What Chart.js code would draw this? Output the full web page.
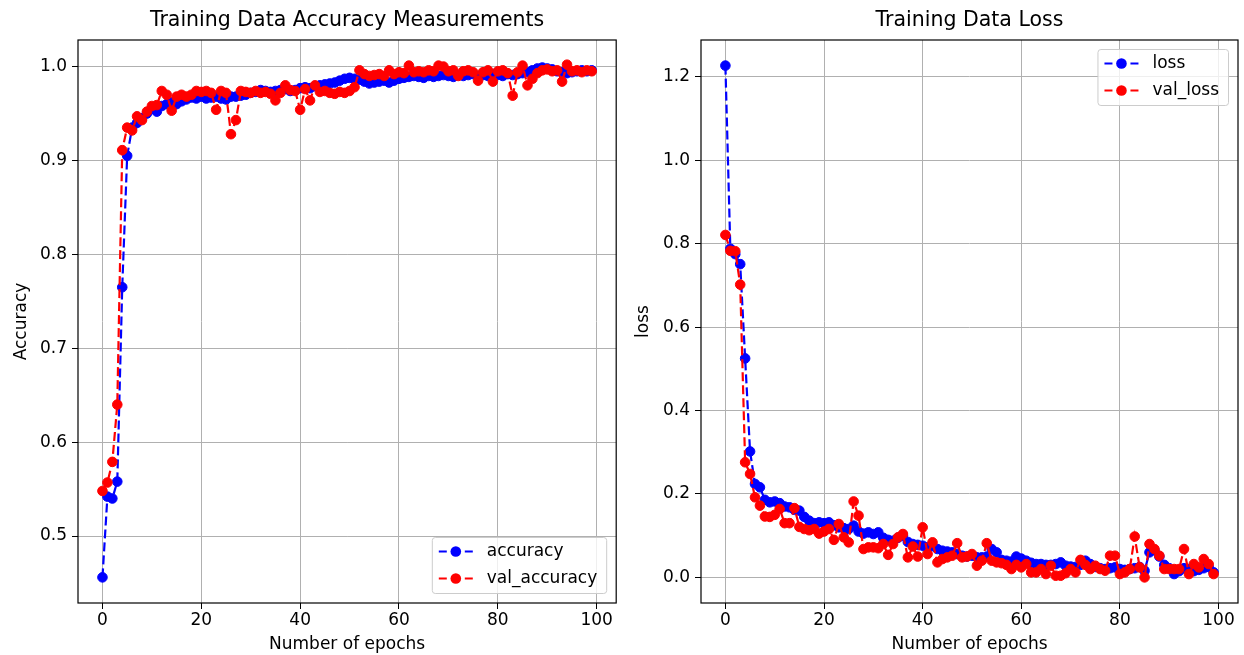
<!DOCTYPE html>
<html>
<head>
<meta charset="utf-8">
<title>Training curves</title>
<script src="https://cdn.jsdelivr.net/npm/chart.js@4.4.1/dist/chart.umd.min.js"></script>
<style>
  html, body { margin: 0; padding: 0; background: #fff; }
  #wrap { position: relative; width: 1244px; height: 655px; }
  canvas { position: absolute; top: 0; }
</style>
</head>
<body>
<div id="wrap">
  <canvas id="accChart" width="622" height="655" style="left:0"></canvas>
  <canvas id="lossChart" width="622" height="655" style="left:622px"></canvas>
</div>
<script>
// epochs 0..99
const epochs = Array.from({ length: 100 }, (_, i) => i);

const accuracy = [
  0.456, 0.542, 0.540, 0.558, 0.765, 0.905, 0.935, 0.940, 0.945, 0.950,
  0.955, 0.952, 0.958, 0.960, 0.962, 0.960, 0.963, 0.965, 0.967, 0.966,
  0.968, 0.966, 0.967, 0.968, 0.966, 0.965, 0.968, 0.968, 0.969, 0.970,
  0.972, 0.973, 0.975, 0.974, 0.973, 0.974, 0.975, 0.976, 0.974, 0.975,
  0.977, 0.978, 0.977, 0.979, 0.980, 0.981, 0.982, 0.983, 0.985, 0.987,
  0.988, 0.987, 0.986, 0.984, 0.982, 0.983, 0.984, 0.985, 0.983, 0.985,
  0.987, 0.988, 0.989, 0.990, 0.989, 0.988, 0.990, 0.989, 0.990, 0.991,
  0.990, 0.989, 0.991, 0.990, 0.991, 0.992, 0.990, 0.991, 0.990, 0.992,
  0.991, 0.990, 0.992, 0.991, 0.992, 0.993, 0.994, 0.996, 0.998, 0.999,
  0.998, 0.997, 0.995, 0.994, 0.993, 0.994, 0.995, 0.996, 0.995, 0.996
];

const valAccuracy = [
  0.548, 0.557, 0.579, 0.640, 0.911, 0.935, 0.932, 0.947, 0.943, 0.952,
  0.958, 0.959, 0.974, 0.970, 0.953, 0.968, 0.970, 0.968, 0.970, 0.974,
  0.973, 0.974, 0.972, 0.954, 0.974, 0.972, 0.928, 0.943, 0.974, 0.973,
  0.972, 0.974, 0.972, 0.973, 0.971, 0.964, 0.972, 0.980, 0.975, 0.974,
  0.954, 0.976, 0.964, 0.980, 0.973, 0.974, 0.972, 0.971, 0.973, 0.972,
  0.974, 0.978, 0.996, 0.992, 0.990, 0.991, 0.992, 0.990, 0.996, 0.992,
  0.994, 0.993, 1.001, 0.994, 0.995, 0.994, 0.996, 0.995, 1.001, 1.000,
  0.995, 0.996, 0.990, 0.995, 0.996, 0.994, 0.985, 0.994, 0.996, 0.984,
  0.995, 0.996, 0.993, 0.969, 0.994, 1.001, 0.980, 0.987, 0.993, 0.996,
  0.997, 0.995, 0.996, 0.984, 1.002, 0.995, 0.996, 0.994, 0.996, 0.995
];

const loss = [
  1.227, 0.788, 0.775, 0.751, 0.525, 0.302, 0.224, 0.216, 0.186, 0.180,
  0.182, 0.178, 0.170, 0.168, 0.162, 0.160, 0.145, 0.136, 0.130, 0.132,
  0.130, 0.132, 0.125, 0.120, 0.118, 0.116, 0.124, 0.110, 0.105, 0.108,
  0.104, 0.108, 0.095, 0.090, 0.088, 0.095, 0.100, 0.085, 0.080, 0.078,
  0.076, 0.072, 0.075, 0.068, 0.064, 0.062, 0.060, 0.056, 0.052, 0.050,
  0.052, 0.048, 0.048, 0.050, 0.068, 0.060, 0.042, 0.040, 0.038, 0.050,
  0.045, 0.040, 0.035, 0.032, 0.032, 0.030, 0.030, 0.032, 0.036, 0.028,
  0.026, 0.025, 0.030, 0.040, 0.032, 0.025, 0.022, 0.020, 0.022, 0.024,
  0.020, 0.018, 0.020, 0.022, 0.025, 0.016, 0.060, 0.065, 0.050, 0.030,
  0.022, 0.008, 0.015, 0.022, 0.020, 0.015, 0.018, 0.022, 0.025, 0.012
];

const valLoss = [
  0.821, 0.783, 0.782, 0.702, 0.276, 0.248, 0.192, 0.172, 0.146, 0.145,
  0.150, 0.164, 0.130, 0.130, 0.166, 0.121, 0.116, 0.113, 0.116, 0.105,
  0.110, 0.116, 0.090, 0.128, 0.096, 0.084, 0.182, 0.148, 0.068, 0.072,
  0.072, 0.070, 0.080, 0.054, 0.080, 0.096, 0.104, 0.048, 0.074, 0.050,
  0.120, 0.056, 0.084, 0.036, 0.044, 0.048, 0.052, 0.082, 0.048, 0.050,
  0.056, 0.028, 0.040, 0.082, 0.040, 0.036, 0.034, 0.030, 0.020, 0.030,
  0.024, 0.032, 0.012, 0.012, 0.020, 0.008, 0.028, 0.004, 0.004, 0.010,
  0.020, 0.012, 0.042, 0.030, 0.020, 0.028, 0.020, 0.016, 0.052, 0.052,
  0.008, 0.012, 0.020, 0.098, 0.024, 0.000, 0.080, 0.068, 0.052, 0.020,
  0.020, 0.020, 0.020, 0.068, 0.008, 0.032, 0.024, 0.044, 0.032, 0.008
];

const xTicks = [0, 20, 40, 60, 80, 100];
const accTicks = [0.5, 0.6, 0.7, 0.8, 0.9, 1.0];
const lossTicks = [0.0, 0.2, 0.4, 0.6, 0.8, 1.0, 1.2];

const FONT = "'DejaVu Sans', sans-serif";
Chart.defaults.font.family = FONT;
Chart.defaults.color = '#000';

const toPoints = vals => vals.map((v, i) => ({ x: epochs[i], y: v }));

function series(label, vals, color, order) {
  return {
    label: label,
    data: toPoints(vals),
    borderColor: color,
    backgroundColor: color,
    borderWidth: 2.2,
    borderDash: [9, 4],
    tension: 0,
    pointRadius: 4.8,
    pointBorderWidth: 1,
    pointBorderColor: color,
    pointBackgroundColor: color,
    order: order
  };
}

// title, frame and matplotlib-like legend
const decor = {
  id: 'decor',
  afterDatasetsDraw(chart, args, opts) {
    const { ctx, chartArea: a } = chart;
    ctx.save();

    ctx.strokeStyle = '#000';
    ctx.lineWidth = 1.2;
    ctx.strokeRect(a.left, a.top, a.right - a.left, a.bottom - a.top);

    ctx.fillStyle = '#000';
    ctx.font = '20.5px ' + FONT;
    ctx.textAlign = 'center';
    ctx.textBaseline = 'middle';
    ctx.fillText(opts.title, (a.left + a.right) / 2, 21);

    // legend
    const items = chart.data.datasets.map(d => ({ label: d.label, color: d.borderColor }));
    ctx.font = '17px ' + FONT;
    const textW = Math.max(...items.map(it => ctx.measureText(it.label).width));
    const w = 55 + textW + 9;
    const h = 29 + 27 * (items.length - 1);
    const x = a.right - 10 - w;
    const y = opts.legendAt === 'upper right' ? a.top + 9 : a.bottom - 10 - h;

    ctx.fillStyle = 'rgba(255,255,255,0.8)';
    ctx.strokeStyle = '#cccccc';
    ctx.lineWidth = 1;
    ctx.beginPath();
    if (ctx.roundRect) ctx.roundRect(x + 0.5, y + 0.5, w, h, 3);
    else ctx.rect(x + 0.5, y + 0.5, w, h);
    ctx.fill();
    ctx.stroke();

    items.forEach((it, i) => {
      const cy = y + 14.5 + 27 * i;
      const x0 = x + 7, x1 = x + 41;
      ctx.strokeStyle = it.color;
      ctx.lineWidth = 2.2;
      ctx.beginPath();
      ctx.moveTo(x0, cy); ctx.lineTo(x0 + 8, cy);
      ctx.moveTo(x1 - 8, cy); ctx.lineTo(x1, cy);
      ctx.stroke();
      ctx.fillStyle = it.color;
      ctx.beginPath();
      ctx.arc((x0 + x1) / 2, cy, 5.3, 0, Math.PI * 2);
      ctx.fill();
      ctx.fillStyle = '#000';
      ctx.textAlign = 'left';
      ctx.textBaseline = 'middle';
      ctx.fillText(it.label, x + 55, cy);
    });
    ctx.restore();
  }
};

function makeChart(canvasId, datasets, cfg) {
  return new Chart(document.getElementById(canvasId), {
    type: 'line',
    data: { datasets: datasets },
    options: {
      responsive: false,
      animation: false,
      devicePixelRatio: 1,
      events: [],
      layout: { padding: { top: 40, left: 0, right: cfg.padRight, bottom: 0 } },
      plugins: {
        legend: { display: false },
        tooltip: { enabled: false },
        decor: { title: cfg.title, legendAt: cfg.legendAt }
      },
      scales: {
        x: {
          type: 'linear',
          min: -4.95,
          max: 103.95,
          afterBuildTicks: s => { s.ticks = xTicks.map(v => ({ value: v })); },
          afterFit: s => { s.height = 52; },
          ticks: { autoSkip: false, padding: 1, color: '#000', font: { size: 17 }, callback: v => String(v) },
          grid: { color: '#b0b0b0', lineWidth: 1, tickLength: 6, tickColor: '#000' },
          border: { display: false },
          title: { display: true, text: 'Number of epochs', color: '#000', font: { size: 17 }, padding: { top: 0, bottom: 0 } }
        },
        y: {
          type: 'linear',
          min: cfg.yMin,
          max: cfg.yMax,
          afterBuildTicks: s => { s.ticks = cfg.yTicks.map(v => ({ value: v })); },
          afterFit: s => { s.width = cfg.yWidth; },
          ticks: { autoSkip: false, padding: 5, color: '#000', font: { size: 17 }, callback: v => v.toFixed(1) },
          grid: { color: '#b0b0b0', lineWidth: 1, tickLength: 6, tickColor: '#000' },
          border: { display: false },
          title: { display: true, text: cfg.yTitle, color: '#000', font: { size: 17 }, padding: { top: 11, bottom: 0 } }
        }
      }
    },
    plugins: [decor]
  });
}

makeChart('accChart', [
  series('accuracy', accuracy, '#0000ff', 1),
  series('val_accuracy', valAccuracy, '#ff0000', 0)
], {
  title: 'Training Data Accuracy Measurements',
  legendAt: 'lower right',
  yTitle: 'Accuracy',
  yMin: 0.4287, yMax: 1.0283,
  yTicks: accTicks,
  yWidth: 78,
  padRight: 2
});

makeChart('lossChart', [
  series('loss', loss, '#0000ff', 1),
  series('val_loss', valLoss, '#ff0000', 0)
], {
  title: 'Training Data Loss',
  legendAt: 'upper right',
  yTitle: 'loss',
  yMin: -0.0614, yMax: 1.2884,
  yTicks: lossTicks,
  yWidth: 79,
  padRight: 6
});
</script>
</body>
</html>
